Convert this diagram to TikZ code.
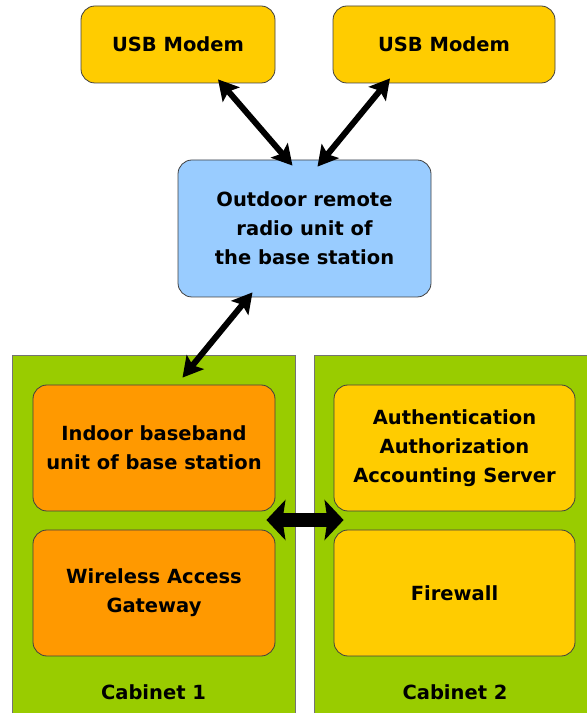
\documentclass[tikz,border=0pt]{standalone}
\usepackage{fontspec}
\setmainfont{DejaVu Sans}
\usetikzlibrary{arrows.meta}

\definecolor{modemyellow}{HTML}{FFCC00}
\definecolor{unitorange}{HTML}{FF9900}
\definecolor{radioblue}{HTML}{99CCFF}
\definecolor{cabgreen}{HTML}{99CC00}

\tikzset{
  unitbox/.style={draw=black!75, line width=0.8pt, rounded corners=14pt, align=center,
    font=\fontsize{19.5}{29}\selectfont\bfseries, inner sep=0pt},
  cabbox/.style={draw=black!55, line width=0.8pt, fill=cabgreen, inner sep=0pt},
  cablabel/.style={font=\fontsize{19.5}{29}\selectfont\bfseries},
  linkarrow/.style={line width=6pt, {Stealth[length=20pt,width=22pt,inset=4pt]}-{Stealth[length=20pt,width=22pt,inset=4pt]}},
  busarrow/.style={line width=14pt, {Stealth[length=19pt,width=40pt,inset=3pt]}-{Stealth[length=19pt,width=40pt,inset=3pt]}}
}

\begin{document}
\begin{tikzpicture}[x=1pt,y=1pt]
  \useasboundingbox (0,0) rectangle (587,713);

  % cabinets
  \node[cabbox, minimum width=283pt, minimum height=358pt] (cabA) at (153.5,179) {};
  \node[cabbox, minimum width=274pt, minimum height=358pt] (cabB) at (451,179) {};
  \node[cablabel] (cablabA) at (153.5,21) {Cabinet 1};
  \node[cablabel] (cablabB) at (455,21) {Cabinet 2};

  % units
  \node[unitbox, fill=modemyellow, minimum width=194pt, minimum height=77pt] (usba) at (178,668.5) {USB Modem};
  \node[unitbox, fill=modemyellow, minimum width=222pt, minimum height=77pt] (usbb) at (444,668.5) {USB Modem};
  \node[unitbox, fill=radioblue, minimum width=253pt, minimum height=137pt] (rru) at (304.5,484.5)
    {Outdoor remote\\radio unit of\\the base station};
  \node[unitbox, fill=unitorange, minimum width=242pt, minimum height=126pt] (bbu) at (154,265)
    {Indoor baseband\\unit of base station};
  \node[unitbox, fill=unitorange, minimum width=242pt, minimum height=126pt] (wag) at (154,120)
    {Wireless Access\\Gateway};
  \node[unitbox, fill=modemyellow, minimum width=241pt, minimum height=126pt] (aaa) at (454.5,265)
    {Authentication\\Authorization\\Accounting Server};
  \node[unitbox, fill=modemyellow, minimum width=241pt, minimum height=126pt] (fw) at (454.5,120)
    {Firewall};

  % links
  \draw[linkarrow] ([shift={(40pt,4pt)}]usba.south) -- ([shift={(-12pt,-6pt)}]rru.north);
  \draw[linkarrow] ([shift={(-54pt,5pt)}]usbb.south) -- ([shift={(13pt,-7pt)}]rru.north);
  \draw[linkarrow] ([shift={(-52pt,5pt)}]rru.south) -- ([shift={(29pt,-23pt)}]cabA.north);
  \draw[busarrow] ([shift={(-29pt,14pt)}]cabA.east) -- ([shift={(30pt,14pt)}]cabB.west);
\end{tikzpicture}
\end{document}
